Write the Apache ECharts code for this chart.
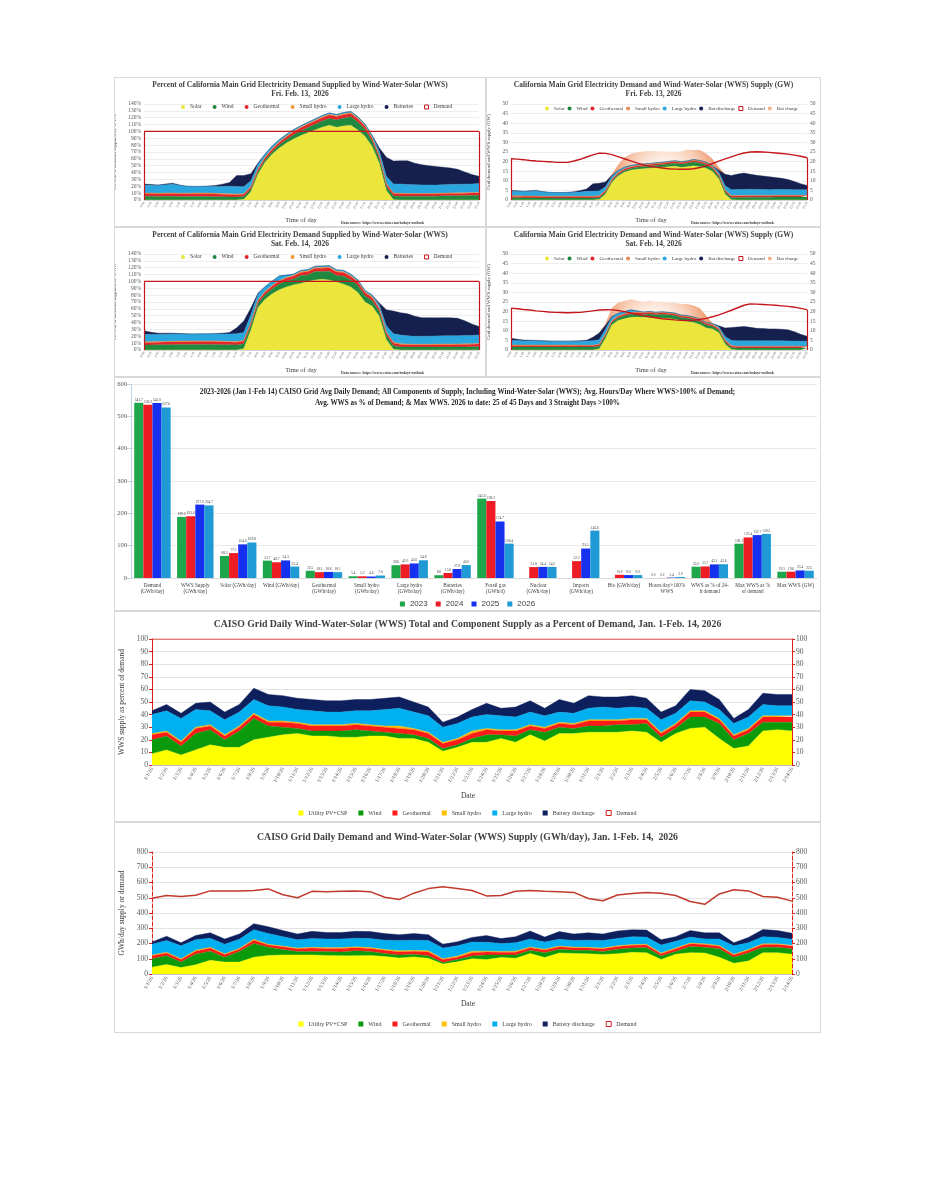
<!DOCTYPE html>
<html><head><meta charset="utf-8">
<script src="https://cdn.jsdelivr.net/npm/echarts@6/dist/echarts.min.js"></script>
<style>
body{margin:0;background:#fff;width:927px;height:1200px;position:relative;overflow:hidden}
.p{position:absolute;border:1px solid #d9d9d9;box-sizing:border-box;background:#fff}
</style></head><body>
<div id="c1" class="p" style="left:114px;top:77px;width:372px;height:150px"></div>
<div id="c2" class="p" style="left:486px;top:77px;width:335px;height:150px"></div>
<div id="c3" class="p" style="left:114px;top:227px;width:372px;height:150px"></div>
<div id="c4" class="p" style="left:486px;top:227px;width:335px;height:150px"></div>
<div id="c5" class="p" style="left:114px;top:377px;width:707px;height:234px"></div>
<div id="c6" class="p" style="left:114px;top:611px;width:707px;height:211px"></div>
<div id="c7" class="p" style="left:114px;top:822px;width:707px;height:211px"></div>
<script>
// ---------------- DATA ----------------
const timeLabels = ['0:00','0:30','1:00','1:30','2:00','2:30','3:00','3:30','4:00','4:30','5:00','5:30','6:00','6:30','7:00','7:30','8:00','8:30','9:00','9:30','10:00','10:30','11:00','11:30','12:00','12:30','13:00','13:30','14:00','14:30','15:00','15:30','16:00','16:30','17:00','17:30','18:00','18:30','19:00','19:30','20:00','20:30','21:00','21:30','22:00','22:30','23:00','23:30'];
const pctYTicks = [0,10,20,30,40,50,60,70,80,90,100,110,120,130,140];
const demandPct48 = [100,100,100,100,100,100,100,100,100,100,100,100,100,100,100,100,100,100,100,100,100,100,100,100,100,100,100,100,100,100,100,100,100,100,100,100,100,100,100,100,100,100,100,100,100,100,100,100];

// Fri Feb 13 - percent of demand
const friPctSolar = [0,0,0,0,0,0,0,0,0,0, 0,0,0,0,1,12,38,55,67,76, 83,89,94,98,102,106,109,106,108,109, 102,93,78,54,14,0.4,0,0,0,0, 0,0,0,0,0,0,0,0];
const friPctWind = [5.6,5.6,5.2,5.3,5.4,5.0,5.0,5.1,5.1,5.1, 4.9,4.7,4.5,4.3,4.1,3.7,3.4,3.5,3.7,4.4, 5.2,6.0,6.8,7.6,8.4,9.2,9.9,10.6,11.3,12.3, 11.8,10.1,7.9,6.4,5.6,5.3,5.5,5.3,5.6,5.6, 5.6,5.6,6.1,6.2,6.3,6.4,6.6,6.8];
const friPctGeo = [3.7,3.8,3.8,3.9,3.9,4.0,4.0,4.1,4.1,4.1, 3.9,3.8,3.6,3.4,3.3,3.3,3.4,3.5,3.7,3.9, 4.1,4.4,4.5,4.7,4.8,4.9,5.0,5.0,5.0,4.9, 4.7,4.5,4.2,4.0,3.7,3.6,3.4,3.3,3.2,3.2, 3.2,3.2,3.3,3.3,3.3,3.4,3.5,3.6];
const friPctSmallHydro = [0.9,0.9,1.0,1.0,1.0,1.0,1.0,1.0,1.0,1.0, 1.0,0.9,0.9,0.9,0.8,0.8,0.8,0.9,0.9,1.0, 1.0,1.1,1.1,1.2,1.2,1.2,1.2,1.3,1.3,1.2, 1.2,1.1,1.1,1.0,0.9,0.9,0.8,0.8,0.8,0.8, 0.8,0.8,0.8,0.8,0.8,0.9,0.9,0.9];
const friPctLargeHydro = [11.2,11.3,11.4,12.1,12.8,11.4,10.1,9.6,9.7,9.7, 9.9,10.4,11.2,11.1,10.2,8.2,6.4,4.4,3.7,2.9, 2.6,2.2,1.7,1.8,1.8,1.8,1.9,1.9,1.9,1.8, 1.8,2.2,3.2,5.9,10.3,13.3,13.6,13.1,12.8,12.4, 12.4,12.1,12.2,12.4,12.6,12.4,12.3,12.7];
const friPctBatteries = [1.9,0.9,0.5,1.0,1.5,0.5,0,0,0,0.5, 1.5,3.3,5.4,16.2,16.4,10.3,2.1,0,0,0, 0,0,0,0,0,0,0,0,0,0, 0,0,0,5.0,28.0,33.3,33.9,34.7,31.2,29.5, 28.0,27.0,25.3,24.0,21.8,17.9,14.0,10.5];

// Fri Feb 13 - GW
const friGwSolar = [0,0,0,0,0,0,0,0,0,0, 0,0,0,0,0.2,3.0,9.0,12.5,14.5,15.5, 16.0,16.3,16.5,16.8,17.0,17.3,17.6,17.0,17.3,17.8, 17.3,16.5,14.8,11.0,3.0,0.1,0,0,0,0, 0,0,0,0,0,0,0,0];
const friGwWind = [1.2,1.2,1.1,1.1,1.1,1.0,1.0,1.0,1.0,1.0, 1.0,1.0,1.0,1.0,1.0,0.9,0.8,0.8,0.8,0.9, 1.0,1.1,1.2,1.3,1.4,1.5,1.6,1.7,1.8,2.0, 2.0,1.8,1.5,1.3,1.2,1.2,1.3,1.3,1.4,1.4, 1.4,1.4,1.5,1.5,1.5,1.5,1.5,1.5];
const friGwGeo = [0.8,0.8,0.8,0.8,0.8,0.8,0.8,0.8,0.8,0.8, 0.8,0.8,0.8,0.8,0.8,0.8,0.8,0.8,0.8,0.8, 0.8,0.8,0.8,0.8,0.8,0.8,0.8,0.8,0.8,0.8, 0.8,0.8,0.8,0.8,0.8,0.8,0.8,0.8,0.8,0.8, 0.8,0.8,0.8,0.8,0.8,0.8,0.8,0.8];
const friGwSmallHydro = [0.2,0.2,0.2,0.2,0.2,0.2,0.2,0.2,0.2,0.2, 0.2,0.2,0.2,0.2,0.2,0.2,0.2,0.2,0.2,0.2, 0.2,0.2,0.2,0.2,0.2,0.2,0.2,0.2,0.2,0.2, 0.2,0.2,0.2,0.2,0.2,0.2,0.2,0.2,0.2,0.2, 0.2,0.2,0.2,0.2,0.2,0.2,0.2,0.2];
const friGwLargeHydro = [2.4,2.4,2.4,2.5,2.6,2.3,2.0,1.9,1.9,1.9, 2.0,2.2,2.5,2.6,2.5,2.0,1.5,1.0,0.8,0.6, 0.5,0.4,0.3,0.3,0.3,0.3,0.3,0.3,0.3,0.3, 0.3,0.4,0.6,1.2,2.2,3.0,3.2,3.2,3.2,3.1, 3.1,3.0,3.0,3.0,3.0,2.9,2.8,2.8];
const friGwBatDischarge = [0.4,0.2,0.1,0.2,0.3,0.1,0,0,0,0.1, 0.3,0.7,1.2,3.8,4.0,2.5,0.5,0,0,0, 0,0,0,0,0,0,0,0,0,0, 0,0,0,1.0,6.0,7.5,8.0,8.5,7.8,7.4, 7.0,6.7,6.2,5.8,5.2,4.2,3.2,2.3];
const friGwBatCharge = [0,0,0,0,0,0,0,0,0,0, 0,0,0,0,0,0,0.5,3.0,5.0,6.0, 6.2,6.4,6.5,6.0,5.5,5.2,4.6,5.2,5.8,5.0, 5.4,4.5,3.5,1.5,0,0,0,0,0,0, 0,0,0,0,0,0,0,0];
const friGwDemand = [21.5,21.3,21.0,20.6,20.3,20.1,19.9,19.7,19.6,19.6, 20.3,21.2,22.4,23.5,24.4,24.3,23.6,22.6,21.5,20.4, 19.3,18.3,17.6,17.1,16.7,16.3,16.1,16.0,16.0,16.3, 16.9,17.8,19.0,20.2,21.4,22.5,23.6,24.5,25.0,25.1, 25.0,24.8,24.5,24.2,23.9,23.4,22.8,22.0];

// Sat Feb 14 - percent of demand
const satPctSolar = [0,0,0,0,0,0,0,0,0,0, 0,0,0,0,2,29,62,74,82,88, 92,95,97,100,102,103,102,99,96,92, 84,70,64,49,15,1,0,0,0,0, 0,0,0,0,0,0,0,0];
const satPctWind = [7.3,7.4,7.6,7.7,7.8,8.0,8.1,8.2,8.2,8.2, 8.2,7.7,7.5,7.4,7.2,6.7,6.2,6.8,7.5,8.3, 8.6,8.4,11.6,9.5,12.3,11.3,12.7,9.7,11.7,10.3, 10.1,9.1,8.1,7.1,6.2,5.3,4.5,4.3,4.2,4.2, 4.2,4.3,4.3,4.3,4.4,4.5,4.6,4.8];
const satPctGeo = [3.7,3.7,3.8,3.8,3.9,4.0,4.0,4.1,4.1,4.1, 4.1,4.1,4.0,3.9,3.8,3.8,3.8,3.9,4.0,4.1, 4.3,4.5,4.6,4.8,4.9,5.0,5.1,5.2,5.2,5.2, 5.0,4.8,4.6,4.4,4.1,3.9,3.6,3.4,3.3,3.3, 3.4,3.4,3.4,3.5,3.5,3.6,3.7,3.8];
const satPctSmallHydro = [0.9,0.9,0.9,1.0,1.0,1.0,1.0,1.0,1.0,1.0, 1.0,1.0,1.0,1.0,1.0,1.0,1.0,1.0,1.0,1.0, 1.1,1.1,1.2,1.2,1.2,1.3,1.3,1.3,1.3,1.3, 1.3,1.2,1.2,1.1,1.0,1.0,0.9,0.9,0.8,0.8, 0.8,0.9,0.9,0.9,0.9,0.9,0.9,1.0];
const satPctLargeHydro = [11.0,10.7,10.4,10.6,10.8,10.4,10.1,10.2,10.3,10.3, 10.3,10.7,11.0,11.3,11.5,11.4,8.6,6.8,6.0,6.7, 3.2,1.7,1.7,1.8,1.8,1.9,1.9,1.9,1.9,1.9, 1.9,1.8,2.3,4.4,9.2,12.6,12.7,12.0,11.7,11.7, 11.8,11.9,12.0,12.2,11.9,12.1,12.0,12.4];
const satPctBatteries = [5.0,3.3,1.9,1.4,1.0,0.5,0.5,0,0,0, 0.5,1.0,2.0,8.8,16.8,9.5,1.4,0,0,0, 0,0,0,0,0,0,0,0,0,0, 0,0,0,2.7,23.1,32.9,32.7,32.2,29.2,27.2, 27.0,26.4,26.6,26.1,25.6,21.5,16.6,12.4];

// Sat Feb 14 - GW
const satGwSolar = [0,0,0,0,0,0,0,0,0,0, 0,0,0,0,0.5,6.0,13.0,15.3,16.3,17.0, 17.2,17.0,16.8,16.8,16.6,16.5,16.0,15.4,14.8,14.3, 13.3,11.5,11.0,9.0,3.0,0.2,0,0,0,0, 0,0,0,0,0,0,0,0];
const satGwWind = [1.6,1.6,1.6,1.6,1.6,1.6,1.6,1.6,1.6,1.6, 1.6,1.5,1.5,1.5,1.5,1.4,1.3,1.4,1.5,1.6, 1.6,1.5,2.0,1.6,2.0,1.8,2.0,1.5,1.8,1.6, 1.6,1.5,1.4,1.3,1.2,1.1,1.0,1.0,1.0,1.0, 1.0,1.0,1.0,1.0,1.0,1.0,1.0,1.0];
const satGwGeo = [0.8,0.8,0.8,0.8,0.8,0.8,0.8,0.8,0.8,0.8, 0.8,0.8,0.8,0.8,0.8,0.8,0.8,0.8,0.8,0.8, 0.8,0.8,0.8,0.8,0.8,0.8,0.8,0.8,0.8,0.8, 0.8,0.8,0.8,0.8,0.8,0.8,0.8,0.8,0.8,0.8, 0.8,0.8,0.8,0.8,0.8,0.8,0.8,0.8];
const satGwSmallHydro = [0.2,0.2,0.2,0.2,0.2,0.2,0.2,0.2,0.2,0.2, 0.2,0.2,0.2,0.2,0.2,0.2,0.2,0.2,0.2,0.2, 0.2,0.2,0.2,0.2,0.2,0.2,0.2,0.2,0.2,0.2, 0.2,0.2,0.2,0.2,0.2,0.2,0.2,0.2,0.2,0.2, 0.2,0.2,0.2,0.2,0.2,0.2,0.2,0.2];
const satGwLargeHydro = [2.4,2.3,2.2,2.2,2.2,2.1,2.0,2.0,2.0,2.0, 2.0,2.1,2.2,2.3,2.4,2.4,1.8,1.4,1.2,1.3, 0.6,0.3,0.3,0.3,0.3,0.3,0.3,0.3,0.3,0.3, 0.3,0.3,0.4,0.8,1.8,2.6,2.8,2.8,2.8,2.8, 2.8,2.8,2.8,2.8,2.7,2.7,2.6,2.6];
const satGwBatDischarge = [1.1,0.7,0.4,0.3,0.2,0.1,0.1,0,0,0, 0.1,0.2,0.4,1.8,3.5,2.0,0.3,0,0,0, 0,0,0,0,0,0,0,0,0,0, 0,0,0,0.5,4.5,6.8,7.2,7.5,7.0,6.5, 6.4,6.2,6.2,6.0,5.8,4.8,3.6,2.6];
const satGwBatCharge = [0,0,0,0,0,0,0,0,0,0, 0,0,0,0,0,1.0,4.5,5.5,5.5,5.5, 5.3,5.3,5.5,5.4,5.3,5.0,5.3,5.8,6.0,6.0, 5.5,3.5,0,0,0,0,0,0,0,0, 0,0,0,0,0,0,0,0];
const satGwDemand = [21.8,21.5,21.1,20.8,20.4,20.1,19.8,19.6,19.5,19.4, 19.5,19.6,20.0,20.4,20.8,21.0,20.9,20.6,20.0,19.3, 18.6,17.9,17.3,16.8,16.3,16.0,15.7,15.5,15.4,15.5, 15.9,16.5,17.3,18.3,19.5,20.7,22.0,23.3,24.0,23.9, 23.7,23.5,23.3,23.0,22.7,22.3,21.7,21.0];

// Bar chart
const barCategories = ['Demand\n(GWh/day)','WWS Supply\n(GWh/day)','Solar (GWh/day)','Wind (GWh/day)','Geothermal\n(GWh/day)','Small hydro\n(GWh/day)','Large hydro\n(GWh/day)','Batteries\n(GWh/day)','Fossil gas\n(GWh/d)','Nuclear\n(GWh/day)','Imports\n(GWh/day)','Bio (GWh/day)','Hours/day>100%\nWWS','WWS as % of 24-\nh demand','Max WWS as %\nof demand','Max WWS (GW)'];
const bar2023 = [541.7,189.0,68.3,53.7,22.5,5.4,39.6,8.6,245.6,'-','-','-',0.0,35.0,106.1,19.5];
const bar2024 = [536.0,191.0,77.1,48.7,18.1,5.2,42.0,15.6,238.2,33.8,52.2,10.0,0.2,35.7,125.4,19.6];
const bar2025 = [541.0,227.0,104.0,54.3,18.8,4.6,45.0,27.8,174.7,34.4,91.1,9.0,1.4,42.1,132.7,23.4];
const bar2026 = [527.6,224.7,109.8,35.4,18.1,7.6,54.8,40.0,106.4,34.2,146.6,9.0,3.0,42.6,136.5,22.5];

// Daily charts
const dates = ['1/1/26','1/2/26','1/3/26','1/4/26','1/5/26','1/6/26','1/7/26','1/8/26','1/9/26','1/10/26','1/11/26','1/12/26','1/13/26','1/14/26','1/15/26','1/16/26','1/17/26','1/18/26','1/19/26','1/20/26','1/21/26','1/22/26','1/23/26','1/24/26','1/25/26','1/26/26','1/27/26','1/28/26','1/29/26','1/30/26','1/31/26','2/1/26','2/2/26','2/3/26','2/4/26','2/5/26','2/6/26','2/7/26','2/8/26','2/9/26','2/10/26','2/11/26','2/12/26','2/13/26','2/14/26'];
const dSolarPct = [9,12,8,12,16,14,14,20,22,24, 25,23,23,22,22,23,23,21,21,18, 11,14,18,18,21,18,24,19,25,25, 26,26,26,27,26,18,25,29,30,21, 13,15,27,28,27];
const dWindPct = [11,11,7,13,12,6,13,17,9,6, 4,4,4,5,6,4,3,4,3,3, 2,2,3,6,3,5,4,7,5,4, 5,5,6,5,7,4,4,9,8,12, 7,10,7,6,7];
const dGeoPct = [4,3,3,4,3,3,3,3,3,4, 4,4,4,4,4,4,4,4,4,4, 4,4,4,4,3,4,3,3,3,3, 4,4,3,4,3,3,3,4,4,3, 3,3,4,4,4];
const dSmallHydroPct = [1,1,1,1,1,1,1,1,1,1, 1,1,1,1,1,1,1,2,1,1, 1,1,2,1,1,1,1,1,1,1, 1,1,1,1,1,1,1,1,1,1, 1,1,1,1,1];
const dLargeHydroPct = [15,16,18,14,11,12,11,11,12,11, 10,11,10,10,10,11,13,14,13,13, 12,12,11,11,11,10,10,9,8,8, 9,10,9,9,8,10,8,8,7,7, 9,9,9,8,8];
const dBatPct = [3,5,4,5,7,6,6,9,9,9, 9,9,9,9,9,9,9,9,8,7, 4,5,6,9,6,8,9,6,10,8, 10,8,9,9,8,6,6,9,9,8, 4,6,9,9,9];
const dDemandPct = [100,100,100,100,100,100,100,100,100,100, 100,100,100,100,100,100,100,100,100,100, 100,100,100,100,100,100,100,100,100,100, 100,100,100,100,100,100,100,100,100,100, 100,100,100,100,100];

const dSolarG = [45,62,42,60,90,78,78,110,122,125, 125,125,122,120,120,122,115,105,112,103, 65,80,100,95,108,103,135,108,138,135, 132,128,133,142,140,95,130,140,138,110, 70,85,140,140,130];
const dWindG = [55,58,36,70,60,32,70,90,53,35, 23,23,26,25,32,26,20,20,18,17, 10,15,18,30,17,22,20,32,24,20, 23,20,30,28,33,23,18,40,37,55, 40,53,35,35,35];
const dGeoG = [20,18,17,20,20,18,15,22,15,18, 17,22,20,23,20,20,20,20,20,25, 20,15,22,20,18,18,17,18,16,17, 15,17,17,18,17,15,17,18,18,17, 15,17,18,18,18];
const dSmallHydroG = [5,5,5,5,5,4,5,6,5,5, 5,5,5,5,6,5,5,8,5,7, 5,8,10,5,5,7,5,4,5,5, 5,5,5,5,5,5,5,5,5,5, 5,5,5,5,5];
const dLargeHydroG = [70,77,85,70,60,63,60,62,70,62, 55,57,57,57,57,59,62,67,67,68, 70,67,60,58,52,55,53,48,45,43, 47,50,48,52,47,52,45,39,32,43, 55,45,47,42,40];
const dBatG = [15,28,20,27,35,35,34,40,45,40, 37,48,42,42,45,46,43,38,43,38, 25,27,30,44,32,40,52,32,50,42, 48,42,49,45,46,35,30,43,40,40, 20,35,47,45,40];
const dDemandG = [497,515,508,517,545,545,545,548,558,520, 500,542,540,543,545,540,503,488,530,560, 572,560,548,512,515,542,548,542,540,535, 495,480,518,528,535,530,515,475,457,525, 553,545,508,503,478];

// ---------------- DRAWING ----------------
const SERIF = 'Liberation Serif';
const CI = {solar:'#ebe53c', wind:'#1f8a3f', geo:'#e4262b', sh:'#f29a38', lh:'#2aa7de', bat:'#16204f', dem:'#c4161c'};
const CD = {solar:'#ffff00', wind:'#0b9a0b', geo:'#ff1a1a', sh:'#ffc000', lh:'#00b0f0', bat:'#0d1f5c', dem:'#c0392b'};

function area(name, data, color){
  return {name:name, type:'line', stack:'s', data:data, symbol:'none', showSymbol:false,
    lineStyle:{width:0.4, color:color}, areaStyle:{color:color, opacity:1},
    itemStyle:{color:color}, emphasis:{disabled:true}, z:2};
}
function txt(x, y, text, size, bold, align){
  return {type:'text', x:x, y:y, silent:true, style:{text:text, fontSize:size, fontFamily:SERIF,
    fontWeight:bold?'bold':'normal', fill:'#404040', align:align||'center', verticalAlign:'middle'}};
}
function legItem(name, color, icon){
  return {name:name, icon:icon||'circle', itemStyle:{color:color}};
}

function pctChart(id, title, s){
  const c = echarts.init(document.getElementById(id));
  c.setOption({
    animation:false,
    title:{text:title, left:'center', top:3, padding:0, textStyle:{fontFamily:SERIF, fontSize:7.5, fontWeight:'bold', lineHeight:9, color:'#404040'}},
    legend:{top:26, left:66, padding:0, itemWidth:4, itemHeight:4, itemGap:11, selectedMode:false,
      textStyle:{fontFamily:SERIF, fontSize:5.5, color:'#404040'},
      data:[legItem('Solar',CI.solar), legItem('Wind',CI.wind), legItem('Geothermal',CI.geo), legItem('Small hydro',CI.sh),
        legItem('Large hydro',CI.lh), legItem('Batteries',CI.bat),
        {name:'Demand', icon:'rect', itemStyle:{color:'#fff', borderColor:CI.dem, borderWidth:1}}]},
    grid:{left:29, right:6, top:26, bottom:26, outerBoundsMode:'none'},
    xAxis:{type:'category', boundaryGap:false, data:timeLabels,
      axisLine:{lineStyle:{color:'#bfbfbf', width:0.6}}, axisTick:{show:false},
      axisLabel:{interval:0, rotate:60, fontSize:3.4, color:'#595959', margin:2, fontFamily:SERIF}},
    yAxis:{type:'value', min:pctYTicks[0], max:pctYTicks[pctYTicks.length-1], interval:10,
      axisLabel:{formatter:'{value}%', fontSize:5.5, color:'#595959', margin:3, fontFamily:SERIF},
      splitLine:{lineStyle:{color:'#e3e3e3', width:0.6}},
      name:'Percent of demand supplied by WWS', nameLocation:'middle', nameGap:20,
      nameTextStyle:{fontSize:5, color:'#404040', fontFamily:SERIF}},
    series:[
      area('Solar', s.solar, CI.solar), area('Wind', s.wind, CI.wind), area('Geothermal', s.geo, CI.geo),
      area('Small hydro', s.sh, CI.sh), area('Large hydro', s.lh, CI.lh), area('Batteries', s.bat, CI.bat),
      {name:'Demand', type:'line', data:demandPct48, symbol:'none', z:5,
        lineStyle:{color:CI.dem, width:1.2}, itemStyle:{color:CI.dem},
        markLine:{silent:true, symbol:'none', label:{show:false}, lineStyle:{color:CI.dem, width:1.2, type:'solid'},
          data:[[{coord:[timeLabels[0],0]},{coord:[timeLabels[0],100]}],
                [{coord:[timeLabels[timeLabels.length-1],0]},{coord:[timeLabels[timeLabels.length-1],100]}]]}}
    ],
    graphic:[txt(186,142,'Time of day',6.5,false), txt(226,145,'Data source: https://www.caiso.com/todays-outlook',3.8,true,'left')]
  });
}

function gwChart(id, title, s, glowX){
  const c = echarts.init(document.getElementById(id));
  // glow of the battery-charge band, in pixel coordinates of this panel
  const charge = new echarts.graphic.RadialGradient(glowX, 100, 60, [
    {offset:0, color:'#ffffff'}, {offset:0.3, color:'#fdf0e8'}, {offset:0.6, color:'#f8cfb7'},
    {offset:0.85, color:'#f0a27a'}, {offset:1, color:'#e8895a'}], true);
  const yBase = {type:'value', min:0, max:50, interval:5,
    axisLabel:{fontSize:5.5, color:'#595959', margin:3, fontFamily:SERIF},
    axisLine:{show:false}, axisTick:{show:false}};
  c.setOption({
    animation:false,
    title:{text:title, left:'center', top:3, padding:0, textStyle:{fontFamily:SERIF, fontSize:7.5, fontWeight:'bold', lineHeight:9, color:'#404040'}},
    legend:{top:28, left:58, width:290, padding:0, itemWidth:4, itemHeight:4, itemGap:3, selectedMode:false,
      textStyle:{fontFamily:SERIF, fontSize:5.0, color:'#404040'},
      data:[legItem('Solar',CI.solar), legItem('Wind',CI.wind), legItem('Geothermal',CI.geo), legItem('Small hydro','#e98a52'),
        legItem('Large hydro',CI.lh), legItem('Bat discharge',CI.bat),
        {name:'Demand', icon:'rect', itemStyle:{color:'#fff', borderColor:CI.dem, borderWidth:1}},
        legItem('Bat charge','#f2b08c')]},
    grid:{left:24, right:13, top:26, bottom:26, outerBoundsMode:'none'},
    xAxis:{type:'category', boundaryGap:false, data:timeLabels,
      axisLine:{lineStyle:{color:'#bfbfbf', width:0.6}}, axisTick:{show:false},
      axisLabel:{interval:0, rotate:60, fontSize:3.4, color:'#595959', margin:2, fontFamily:SERIF}},
    yAxis:[Object.assign({}, yBase, {splitLine:{lineStyle:{color:'#e3e3e3', width:0.6}},
        name:'Grid demand and WWS supply (GW)', nameLocation:'middle', nameGap:14,
        nameTextStyle:{fontSize:5, color:'#404040', fontFamily:SERIF}}),
      Object.assign({}, yBase, {position:'right', splitLine:{show:false}})],
    series:[
      area('Solar', s.solar, CI.solar), area('Wind', s.wind, CI.wind), area('Geothermal', s.geo, CI.geo),
      area('Small hydro', s.sh, CI.sh), area('Large hydro', s.lh, CI.lh), area('Bat discharge', s.bat, CI.bat),
      {name:'Bat charge', type:'line', stack:'s', data:s.charge, symbol:'none', lineStyle:{width:0},
        areaStyle:{color:charge, opacity:1}, itemStyle:{color:'#f2b08c'}, z:1},
      {name:'Demand', type:'line', data:s.dem, symbol:'none', z:5, lineStyle:{color:CI.dem, width:1.4}, itemStyle:{color:CI.dem},
        markLine:{silent:true, symbol:'none', label:{show:false}, lineStyle:{color:CI.dem, width:1.2, type:'solid'},
          data:[[{coord:[timeLabels[0],0]},{coord:[timeLabels[0],s.dem[0]]}],
                [{coord:[timeLabels[timeLabels.length-1],0]},{coord:[timeLabels[timeLabels.length-1],s.dem[s.dem.length-1]]}]]}}
    ],
    graphic:[txt(164,142,'Time of day',6.5,false), txt(204,145,'Data source: https://www.caiso.com/todays-outlook',3.8,true,'left')]
  });
}

pctChart('c1', 'Percent of California Main Grid Electricity Demand Supplied by Wind-Water-Solar (WWS)\nFri. Feb. 13,  2026',
  {solar:friPctSolar, wind:friPctWind, geo:friPctGeo, sh:friPctSmallHydro, lh:friPctLargeHydro, bat:friPctBatteries});
gwChart('c2', 'California Main Grid Electricity Demand and Wind-Water-Solar (WWS) Supply (GW)\nFri. Feb. 13, 2026',
  {solar:friGwSolar, wind:friGwWind, geo:friGwGeo, sh:friGwSmallHydro, lh:friGwLargeHydro, bat:friGwBatDischarge, charge:friGwBatCharge, dem:friGwDemand}, 178);
pctChart('c3', 'Percent of California Main Grid Electricity Demand Supplied by Wind-Water-Solar (WWS)\nSat. Feb. 14,  2026',
  {solar:satPctSolar, wind:satPctWind, geo:satPctGeo, sh:satPctSmallHydro, lh:satPctLargeHydro, bat:satPctBatteries});
gwChart('c4', 'California Main Grid Electricity Demand and Wind-Water-Solar (WWS) Supply (GW)\nSat. Feb. 14, 2026',
  {solar:satGwSolar, wind:satGwWind, geo:satGwGeo, sh:satGwSmallHydro, lh:satGwLargeHydro, bat:satGwBatDischarge, charge:satGwBatCharge, dem:satGwDemand}, 168);

// Bar chart
(function(){
  const c = echarts.init(document.getElementById('c5'));
  function bar(name, data, color){
    return {name:name, type:'bar', data:data, barGap:'0%', barCategoryGap:'15%', itemStyle:{color:color},
      label:{show:true, position:'top', distance:1, fontSize:3.6, color:'#404040', fontFamily:SERIF,
        formatter:function(p){return (typeof p.value==='number')? p.value.toFixed(1) : '';}}};
  }
  c.setOption({
    animation:false,
    title:{text:'2023-2026 (Jan 1-Feb 14) CAISO Grid Avg Daily Demand; All Components of Supply, Including Wind-Water-Solar (WWS); Avg. Hours/Day Where WWS>100% of Demand;\nAvg. WWS as % of Demand; & Max WWS. 2026 to date: 25 of 45 Days and 3 Straight Days >100%',
      left:'center', top:9, padding:0, textStyle:{fontFamily:SERIF, fontSize:7.2, fontWeight:'bold', lineHeight:10.5, color:'#262626'}},
    legend:{bottom:2, left:'center', padding:0, itemWidth:5, itemHeight:5, itemGap:8, icon:'rect', selectedMode:false,
      textStyle:{fontFamily:'Liberation Sans', fontSize:8, color:'#404040'}},
    grid:{left:16, right:3, top:6, bottom:32, outerBoundsMode:'none'},
    xAxis:{type:'category', data:barCategories, axisTick:{show:false}, axisLine:{lineStyle:{color:'#d9d9d9'}},
      axisLabel:{interval:0, fontSize:5.2, lineHeight:6.5, color:'#404040', margin:4, fontFamily:SERIF}},
    yAxis:{type:'value', min:0, max:600, interval:100,
      axisLabel:{fontSize:6.5, color:'#595959', margin:4, fontFamily:SERIF},
      axisLine:{show:true, lineStyle:{color:'#bcd4e6'}}, axisTick:{show:true, lineStyle:{color:'#bcd4e6'}},
      splitLine:{lineStyle:{color:'#e8e8e8'}}},
    series:[bar('2023', bar2023, '#1ea64b'), bar('2024', bar2024, '#ee1c24'), bar('2025', bar2025, '#1630f0'), bar('2026', bar2026, '#1f9ad5')]
  });
})();

function dailyChart(id, cfg){
  const c = echarts.init(document.getElementById(id));
  const yb = {type:'value', min:0, max:cfg.max, interval:cfg.step,
    axisLabel:{fontSize:7.5, color:'#595959', margin:4, fontFamily:SERIF},
    axisLine:{show:true, lineStyle:{color:'#e0201b', width:1, type:cfg.axisType}},
    axisTick:{show:true, length:3, lineStyle:{color:'#e0201b'}}};
  c.setOption({
    animation:false,
    title:{text:cfg.title, left:'center', top:cfg.titleTop, padding:0, textStyle:{fontFamily:SERIF, fontSize:9.8, fontWeight:'bold', color:'#404040'}},
    legend:{bottom:5, left:'center', padding:0, itemWidth:5, itemHeight:5, itemGap:11, selectedMode:false,
      textStyle:{fontFamily:SERIF, fontSize:6, color:'#404040'},
      data:[legItem('Utility PV+CSP',CD.solar,'rect'), legItem('Wind',CD.wind,'rect'), legItem('Geothermal',CD.geo,'rect'),
        legItem('Small hydro',CD.sh,'rect'), legItem('Large hydro',CD.lh,'rect'), legItem('Battery discharge',CD.bat,'rect'),
        {name:'Demand', icon:'rect', itemStyle:{color:'#fff', borderColor:'#d21f1f', borderWidth:1}}]},
    grid:{left:37, right:28, top:cfg.top, bottom:cfg.bottom, outerBoundsMode:'none'},
    xAxis:{type:'category', boundaryGap:false, data:dates,
      axisLine:{lineStyle:{color:'#bfbfbf'}}, axisTick:{show:false},
      axisLabel:{interval:0, rotate:60, fontSize:5.3, color:'#595959', margin:3, fontFamily:SERIF}},
    yAxis:[Object.assign({}, yb, {splitLine:{lineStyle:{color:'#dcdcdc', width:0.8}}, name:cfg.yName, nameLocation:'middle', nameGap:22,
        nameTextStyle:{fontSize:7.5, color:'#404040', fontFamily:SERIF}}),
      Object.assign({}, yb, {position:'right', splitLine:{show:false}})],
    series:[
      area('Utility PV+CSP', cfg.s[0], CD.solar), area('Wind', cfg.s[1], CD.wind), area('Geothermal', cfg.s[2], CD.geo),
      area('Small hydro', cfg.s[3], CD.sh), area('Large hydro', cfg.s[4], CD.lh), area('Battery discharge', cfg.s[5], CD.bat),
      {name:'Demand', type:'line', data:cfg.dem, symbol:'none', z:5, lineStyle:{color:cfg.demColor, width:cfg.demWidth}, itemStyle:{color:cfg.demColor}}
    ],
    graphic:[txt(353, cfg.dateY, 'Date', 7.5, false)]
  });
}

dailyChart('c6', {title:'CAISO Grid Daily Wind-Water-Solar (WWS) Total and Component Supply as a Percent of Demand, Jan. 1-Feb. 14, 2026',
  titleTop:7, max:100, step:10, top:27, bottom:56, yName:'WWS supply as percent of demand', axisType:'solid', dateY:184,
  s:[dSolarPct, dWindPct, dGeoPct, dSmallHydroPct, dLargeHydroPct, dBatPct], dem:dDemandPct, demColor:'#e0201b', demWidth:1.2});
dailyChart('c7', {title:'CAISO Grid Daily Demand and Wind-Water-Solar (WWS) Supply (GWh/day), Jan. 1-Feb. 14,  2026',
  titleTop:9, max:800, step:100, top:29, bottom:58, yName:'GWh/day supply or demand', axisType:'dashed', dateY:181,
  s:[dSolarG, dWindG, dGeoG, dSmallHydroG, dLargeHydroG, dBatG], dem:dDemandG, demColor:'#c0392b', demWidth:1.5});
</script>
</body></html>
